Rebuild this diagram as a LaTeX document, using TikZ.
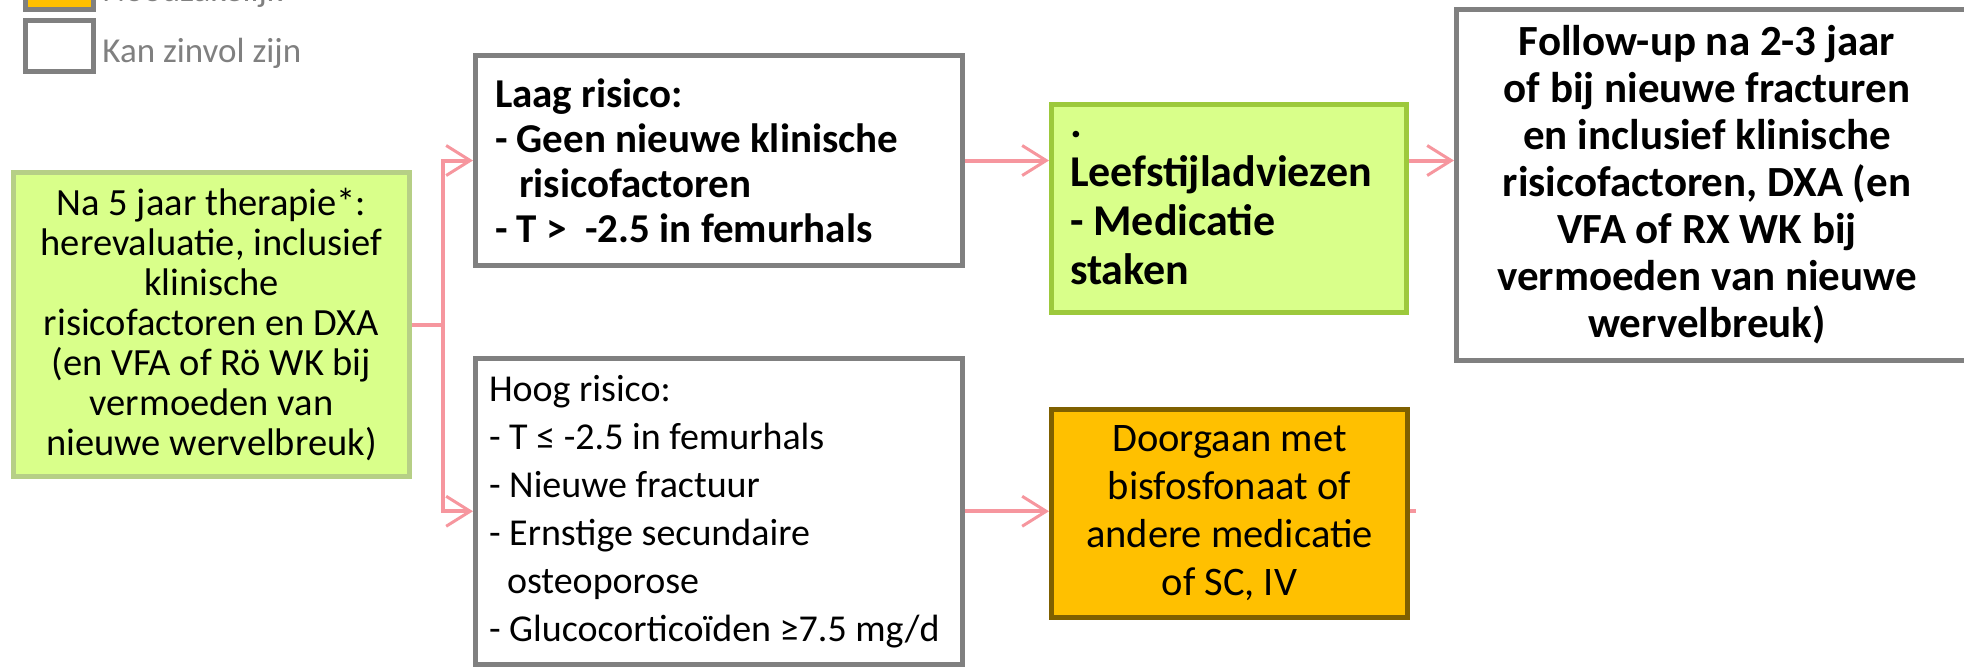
\documentclass[tikz,border=0pt]{standalone}
\usepackage{fontspec}
\setmainfont{Carlito}
\usetikzlibrary{arrows.meta}
\definecolor{limefill}{RGB}{217,255,138}
\definecolor{startbord}{RGB}{182,207,134}
\definecolor{leefbord}{RGB}{157,201,60}
\definecolor{orangefill}{RGB}{255,192,0}
\definecolor{orangebord}{RGB}{127,96,0}
\definecolor{grayb}{RGB}{128,128,128}
\definecolor{legtext}{RGB}{128,128,128}
\definecolor{pinkc}{RGB}{246,150,158}
\begin{document}
\begin{tikzpicture}[x=0.5pt,y=-0.5pt,
  box/.style={draw, line width=2.5pt, rectangle, inner sep=0pt, text=black},
  conn/.style={draw=pinkc, line width=2pt},
  arr/.style={-{Straight Barb[length=12pt,width=15pt,line width=1.5pt]}},
  legbox/.style={draw=grayb, line width=2.5pt, rectangle, inner sep=0pt, minimum width=34pt, minimum height=25.5pt},
  legtxt/.style={anchor=base west, inner sep=0pt, text=legtext, font=\fontsize{17.5pt}{20pt}\selectfont}]
\useasboundingbox (0,0) rectangle (1964,666);
\clip (0,0) rectangle (1964,666);

% legend
\node[legbox, fill=orangefill] (legy) at (59.5,-16) {};
\node[legbox, fill=white] (legw) at (59.5,46) {};
\node[legtxt] (legyt) at (102,1) {Noodzakelijk};
\node[legtxt] (legwt) at (102,62) {Kan zinvol zijn};

% start box
\node[box, draw=startbord, fill=limefill, minimum width=198pt, minimum height=152pt,
  align=center, font=\fontsize{19.25pt}{20pt}\selectfont] (start) at (211.5,324.5)
  {Na 5 jaar therapie*:\\herevaluatie, inclusief\\klinische\\risicofactoren en DXA\\(en VFA of Rö WK bij\\vermoeden van\\nieuwe wervelbreuk)};

% low risk
\node[box, draw=grayb, fill=white, minimum width=243.5pt, minimum height=105pt,
  text width=224pt, align=flush left, font=\bfseries\fontsize{20.5pt}{22.5pt}\selectfont] (laag) at (719,160.5)
  {Laag risico:\\\mbox{- Geen nieuwe klinische}\\\hspace*{12pt}risicofactoren\\\mbox{- T >\ \ -2.5 in femurhals}};

% high risk
\node[box, draw=grayb, fill=white, minimum width=243.5pt, minimum height=152.75pt,
  text width=230pt, align=flush left, font=\fontsize{19pt}{24pt}\selectfont] (hoog) at (719,511.25)
  {Hoog risico:\\\mbox{- T ≤ -2.5 in femurhals}\\- Nieuwe fractuur\\- Ernstige secundaire\\\hspace*{9pt}osteoporose\\\mbox{- Glucocorticoïden ≥7.5 mg/d}};

% lifestyle
\node[box, draw=leefbord, fill=limefill, minimum width=177.5pt, minimum height=104pt,
  text width=159pt, align=flush left, font=\bfseries\fontsize{22pt}{24.5pt}\selectfont] (leef) at (1229,208.5)
  {.\\Leefstijladviezen\\- Medicatie\\staken};

% continue medication
\node[box, draw=orangebord, fill=orangefill, minimum width=178pt, minimum height=104pt,
  align=center, font=\fontsize{20.25pt}{24pt}\selectfont] (doorg) at (1229.5,513.5)
  {Doorgaan met\\bisfosfonaat of\\andere medicatie\\of SC, IV};

% follow-up
\node[box, draw=grayb, fill=white, minimum width=259.25pt, minimum height=175.5pt] (fu) at (1715.75,185) {};
\node[align=center, inner sep=0pt, font=\bfseries\fontsize{21.5pt}{23.5pt}\selectfont] (futxt) at (1707,185)
  {Follow-up na 2-3 jaar\\of bij nieuwe fracturen\\en inclusief klinische\\risicofactoren, DXA (en\\VFA of RX WK bij\\vermoeden van nieuwe\\wervelbreuk)};

% connectors
\coordinate (jn) at (443,324.5);
\coordinate (stub) at (1416,511.25);
\draw[conn] (start.east) -- (jn);
\draw[conn, arr] (jn) |- (laag.west);
\draw[conn, arr] (jn) |- (hoog.west);
\draw[conn, arr] (laag.east) -- (laag.east -| leef.west);
\draw[conn, arr] (laag.east -| leef.east) -- (laag.east -| fu.west);
\draw[conn, arr] (hoog.east) -- (hoog.east -| doorg.west);
\draw[conn] (hoog.east -| doorg.east) -- (stub);
\end{tikzpicture}
\end{document}
